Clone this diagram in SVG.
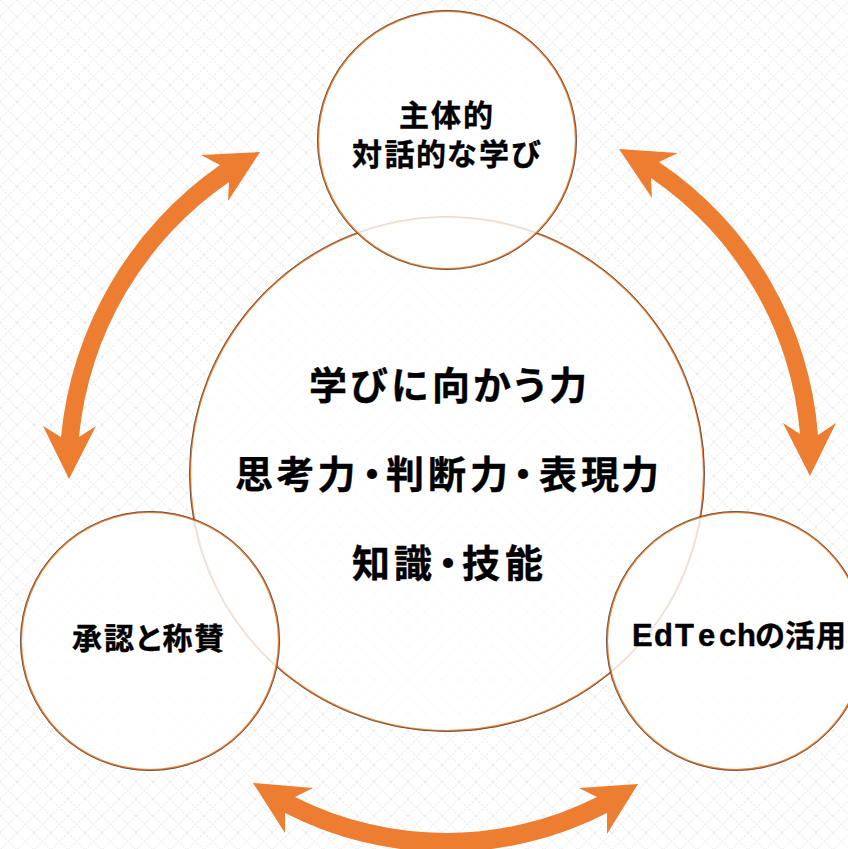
<svg xmlns="http://www.w3.org/2000/svg" width="848" height="849" viewBox="0 0 848 849">
<style>
text{font-family:"Noto Sans CJK JP","Noto Sans",sans-serif;font-weight:700;fill:#000;stroke:#000;stroke-width:.4;stroke-linejoin:round}
.big{font-size:38px}
.mid{font-size:30px}
.latin{font-family:"Liberation Sans","Noto Sans CJK JP",sans-serif;font-size:31px}
.disc{fill:#fff}
.edge{fill:none;stroke:#ed7d31;stroke-width:1.8}
.dark{fill:none;stroke:#3a3a3a;stroke-width:.9;stroke-opacity:.8}
.arrow{fill:#ed7d31}
</style>
<defs>
<pattern id="lattice" width="17" height="17" patternUnits="userSpaceOnUse">
<path d="M0 0L17 17M17 0L0 17" stroke="#eeeeee" stroke-width="1.3" stroke-dasharray="2 1.6" fill="none"/>
</pattern>
</defs>
<rect width="848" height="849" fill="#fff"/>
<rect width="848" height="849" fill="url(#lattice)"/>
<g id="connectors">
<path class="arrow" d="M260 152L201 155L220 165A375 375 0 0 0 61 437L43 426L69 479L96 426L79 437A350 350 0 0 1 229 182L228 201Z"/>
<path class="arrow" d="M619 149L678 153L659 162A362 362 0 0 1 818 435L836 423L810 476L783 423L800 434A345 345 0 0 0 651 178L652 198Z"/>
<path class="arrow" d="M253 783L313 788L295 797A335 335 0 0 0 597 797L579 788L638 784L607 834L607 813A352 352 0 0 1 285 813L285 833Z"/>
</g>
<g id="node-main">
<circle class="disc" cx="447" cy="474" r="257" fill-opacity=".75"/>
<circle class="edge" cx="447" cy="474" r="256.8"/>
<circle class="dark" cx="447" cy="474" r="257.6"/>
<text class="big" x="309 350 391 432 473 511 549" y="399">学びに向かう力</text>
<text class="big" x="235 276.5 317.5 353 386 428 470 504 539 581 621" y="488">思考力・判断力・表現力</text>
<text class="big" x="352 394 429 462 505" y="577">知識・技能</text>
</g>
<g id="node-top">
<circle class="disc" cx="447" cy="140" r="129" fill-opacity=".8"/>
<circle class="edge" cx="447" cy="140" r="128.8"/>
<circle class="dark" cx="447" cy="140" r="129.6"/>
<text class="mid" x="399 431 463" y="126">主体的</text>
<text class="mid" x="352 384.5 416 447 479 511" y="165">対話的な学び</text>
</g>
<g id="node-left">
<circle class="disc" cx="150" cy="641" r="129" fill-opacity=".8"/>
<circle class="edge" cx="150" cy="641" r="128.8"/>
<circle class="dark" cx="150" cy="641" r="129.6"/>
<text class="mid" x="72 104 134 162.5 194" y="649">承認と称賛</text>
</g>
<g id="node-right">
<circle class="disc" cx="736" cy="641" r="129" fill-opacity=".8"/>
<circle class="edge" cx="736" cy="641" r="128.8"/>
<circle class="dark" cx="736" cy="641" r="129.6"/>
<text class="mid" y="646"><tspan class="latin" x="632 654 675 698 719 737">EdTech</tspan><tspan x="755 785 816">の活用</tspan></text>
</g>
</svg>
